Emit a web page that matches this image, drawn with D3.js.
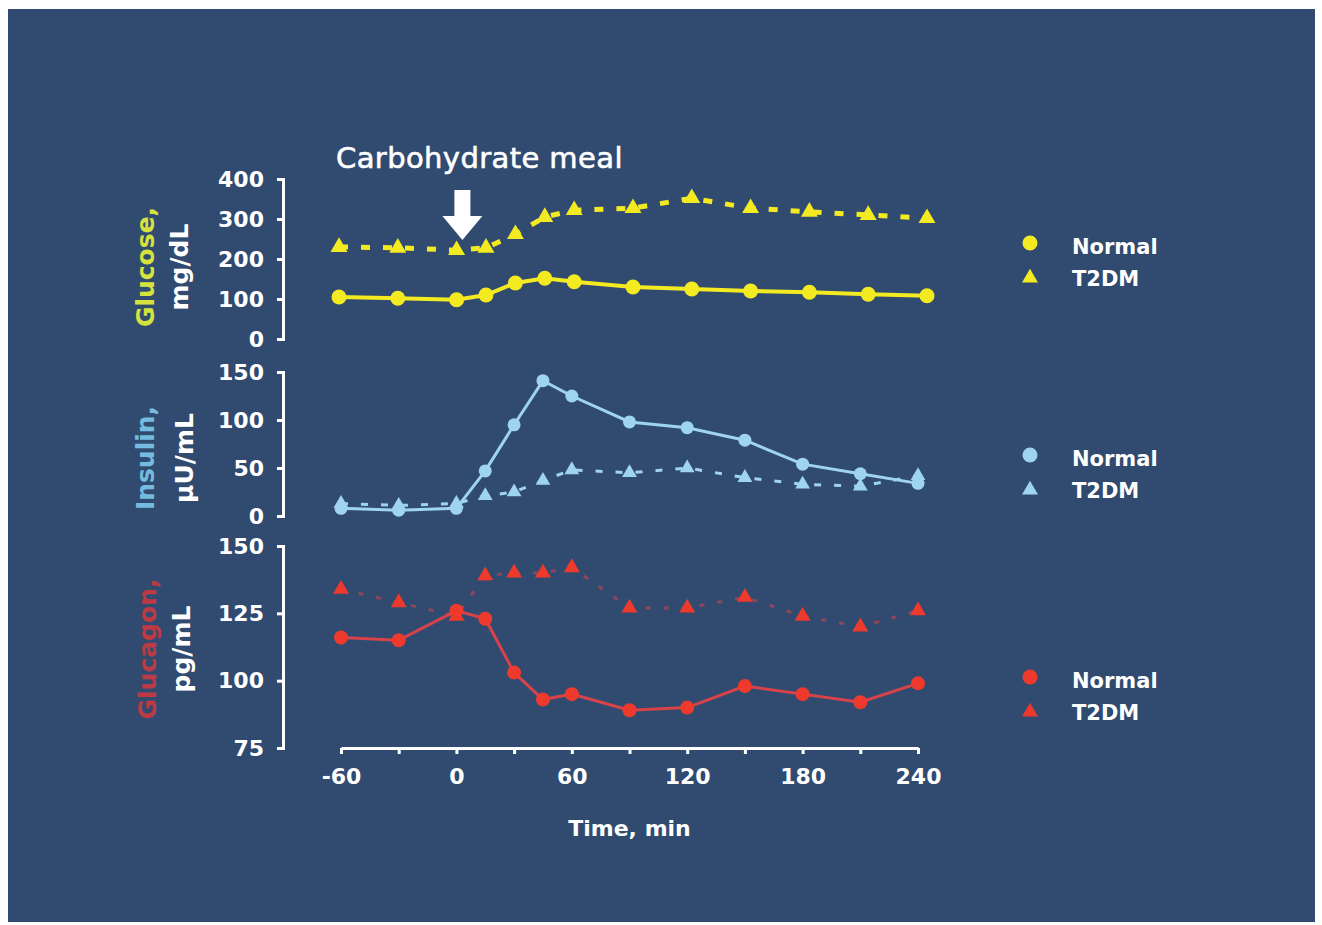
<!DOCTYPE html>
<html>
<head>
<meta charset="utf-8">
<script src="https://cdn.jsdelivr.net/npm/d3@7"></script>
<style>
html,body{margin:0;padding:0;background:#ffffff;}
svg{display:block;}
text{font-family:"DejaVu Sans",Verdana,sans-serif;}
</style>
</head>
<body>
<svg id="chart" width="1322" height="925"></svg>
<script>
// ---- data ----
const times = [-60, -30, 0, 15, 30, 45, 60, 90, 120, 150, 180, 210, 240];
const glucoseNormal = [105, 102, 98, 110, 140, 152, 143, 130, 125, 120, 117, 112, 108];
const glucoseT2DM   = [230, 228, 222, 228, 262, 305, 322, 327, 352, 327, 318, 310, 302];
const insulinNormal = [8, 6, 8, 47, 95, 141, 125, 98, 92, 79, 54, 44, 34];
const insulinT2DM   = [13, 11, 13, 21, 25, 37, 48, 45, 50, 40, 33, 31, 42];
const glucagonNormal = [116, 115, 126, 123, 103, 93, 95, 89, 90, 98, 95, 92, 99];
const glucagonT2DM   = [134, 129, 124, 139, 140, 140, 142, 127, 127, 131, 124, 120, 126];
const glucoseTicks = [0, 100, 200, 300, 400];
const insulinTicks = [0, 50, 100, 150];
const glucagonTicks = [75, 100, 125, 150];
const timeTicks = [-60, -30, 0, 30, 60, 90, 120, 150, 180, 210, 240];
const timeLabels = [-60, 0, 60, 120, 180, 240];
const seriesNames = ["Normal", "T2DM"];

const svg = d3.select("#chart");
svg.append("rect").attr("x", 8).attr("y", 9).attr("width", 1307).attr("height", 913).attr("fill", "#314b70");

const AXIS_X = 283;

const panels = [
  {label: "Glucose,", unit: "mg/dL", labelColor: "#d6e23e", color: "#f4ea22",
   normal: glucoseNormal, t2dm: glucoseT2DM, domain: [0, 400], yRange: [339, 179], xRange: [339, 927],
   ticks: glucoseTicks, midY: 267, lblX: 154, unitX: 188,
   normalW: 4, dashW: 5, dash: "9,13", dashOpacity: 1, r: 7.5, tri: 125,
   legendY: 243},
  {label: "Insulin,", unit: "\u03bcU/mL", labelColor: "#74bbdf", color: "#9fd4ee",
   normal: insulinNormal, t2dm: insulinT2DM, domain: [0, 150], yRange: [516, 372], xRange: [341, 918],
   ticks: insulinTicks, midY: 458, lblX: 154, unitX: 193,
   normalW: 3, dashW: 3, dash: "7,13", dashOpacity: 1, r: 6.5, tri: 95,
   legendY: 455},
  {label: "Glucagon,", unit: "pg/mL", labelColor: "#bb3a44", color: "#ee3a2c", lineColor: "#d8434a",
   normal: glucagonNormal, t2dm: glucagonT2DM, domain: [75, 150], yRange: [748, 546], xRange: [341, 918],
   ticks: glucagonTicks, midY: 649, lblX: 156, unitX: 190,
   normalW: 3, dashW: 3, dash: "5,13", dashOpacity: 0.55, r: 7, tri: 110,
   legendY: 677}
];

panels.forEach(p => {
  const x = d3.scaleLinear().domain([-60, 240]).range(p.xRange);
  const y = d3.scaleLinear().domain(p.domain).range(p.yRange);

  // y axis
  const ax = svg.append("g").attr("transform", `translate(${AXIS_X},0)`)
    .call(d3.axisLeft(y).tickValues(p.ticks).tickSize(6).tickPadding(13).tickFormat(d3.format("d")));
  ax.selectAll("path,line").attr("stroke", "#ffffff").attr("stroke-width", 3);
  ax.selectAll("text").attr("fill", "#ffffff").attr("font-size", 22).attr("font-weight", "bold");

  // axis titles
  svg.append("text").attr("transform", `translate(${p.lblX},${p.midY}) rotate(-90)`)
    .attr("text-anchor", "middle").attr("fill", p.labelColor).attr("font-size", 25).attr("font-weight", "bold")
    .text(p.label);
  svg.append("text").attr("transform", `translate(${p.unitX},${p.midY}) rotate(-90)`)
    .attr("text-anchor", "middle").attr("fill", "#ffffff").attr("font-size", 25).attr("font-weight", "bold")
    .text(p.unit);

  const line = d3.line().x((d, i) => x(times[i])).y(d => y(d));
  const lc = p.lineColor || p.color;

  // T2DM dashed
  svg.append("path").datum(p.t2dm).attr("d", line).attr("fill", "none")
    .attr("stroke", lc).attr("stroke-width", p.dashW).attr("stroke-dasharray", p.dash)
    .attr("opacity", p.dashOpacity);
  // Normal solid
  svg.append("path").datum(p.normal).attr("d", line).attr("fill", "none")
    .attr("stroke", lc).attr("stroke-width", p.normalW);

  const tri = d3.symbol().type(d3.symbolTriangle).size(p.tri);
  svg.append("g").selectAll("path").data(p.t2dm).join("path")
    .attr("d", tri).attr("transform", (d, i) => `translate(${x(times[i])},${y(d)})`)
    .attr("fill", p.color);
  svg.append("g").selectAll("circle").data(p.normal).join("circle")
    .attr("cx", (d, i) => x(times[i])).attr("cy", d => y(d)).attr("r", p.r)
    .attr("fill", p.color);

  // legend
  const lg = svg.append("g").attr("transform", `translate(1030,${p.legendY})`);
  lg.append("circle").attr("cx", 0).attr("cy", 0).attr("r", 7.5).attr("fill", p.color);
  lg.append("path").attr("d", d3.symbol().type(d3.symbolTriangle).size(110)).attr("transform", "translate(0,35)").attr("fill", p.color);
  seriesNames.forEach((s, i) => {
    lg.append("text").attr("x", 42).attr("y", 11 + i * 32).attr("fill", "#ffffff")
      .attr("font-size", 21).attr("font-weight", "bold").text(s);
  });
});

// x axis
const xb = d3.scaleLinear().domain([-60, 240]).range([341, 918]);
const xa = svg.append("g").attr("transform", "translate(0,748)")
  .call(d3.axisBottom(xb).tickValues(timeTicks).tickSize(6).tickSizeOuter(0).tickPadding(14)
    .tickFormat(d => timeLabels.includes(d) ? String(d) : ""));
xa.selectAll("path,line").attr("stroke", "#ffffff").attr("stroke-width", 3);
xa.selectAll("text").attr("fill", "#ffffff").attr("font-size", 22).attr("font-weight", "bold");

svg.append("text").attr("x", xb(90)).attr("y", 836).attr("text-anchor", "middle")
  .attr("fill", "#ffffff").attr("font-size", 22).attr("font-weight", "bold").text("Time, min");

// meal annotation
svg.append("text").attr("x", 336).attr("y", 168).attr("fill", "#ffffff").attr("font-size", 29)
  .attr("letter-spacing", 0.4).attr("stroke", "#ffffff").attr("stroke-width", 0.6)
  .text("Carbohydrate meal");
const ax0 = xb(0) + 6;
svg.append("path")
  .attr("d", `M${ax0 - 8},190 L${ax0 + 8},190 L${ax0 + 8},216 L${ax0 + 20},216 L${ax0},240 L${ax0 - 20},216 L${ax0 - 8},216 Z`)
  .attr("fill", "#ffffff");
</script>
</body>
</html>
